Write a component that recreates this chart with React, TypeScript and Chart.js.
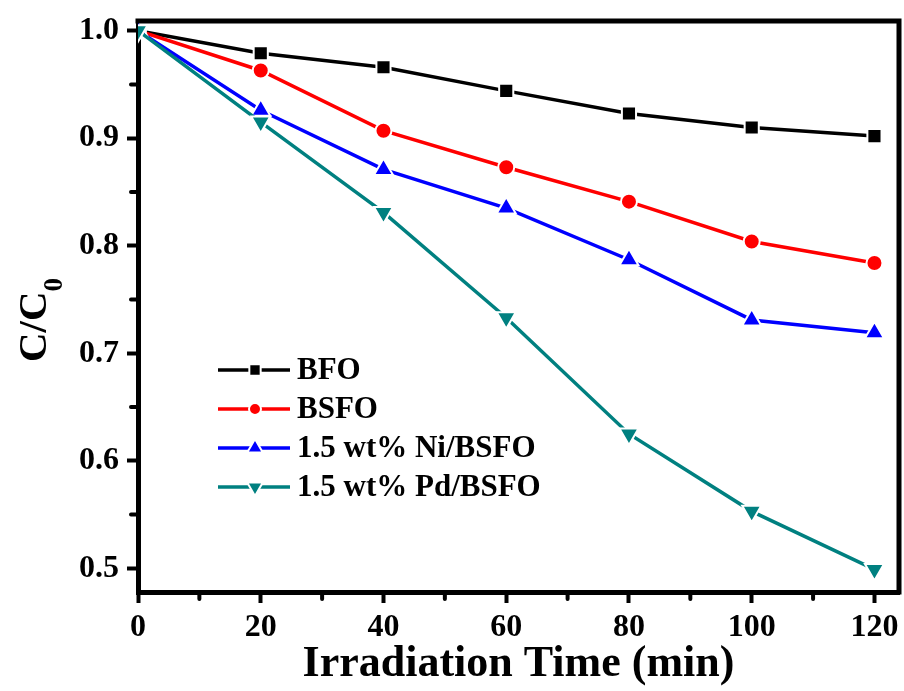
import React, { useEffect, useRef } from "react";
import { Chart, registerables } from "chart.js";
import { drawPoint } from "chart.js/helpers";

Chart.register(...registerables);

const times = [0, 20, 40, 60, 80, 100, 120];
const bfo = [1.0, 0.979, 0.966, 0.944, 0.923, 0.91, 0.902];
const bsfo = [1.0, 0.963, 0.907, 0.873, 0.841, 0.804, 0.784];
const niBsfo = [1.0, 0.926, 0.871, 0.835, 0.787, 0.731, 0.719];
const pdBsfo = [1.0, 0.915, 0.831, 0.733, 0.625, 0.553, 0.499];
const seriesNames = ["BFO", "BSFO", "1.5 wt% Ni/BSFO", "1.5 wt% Pd/BSFO"];
const xMinorTicks = [10, 30, 50, 70, 90, 110];
const yMinorTicks = [0.55, 0.65, 0.75, 0.85, 0.95];

const FONT = "'Liberation Serif', 'Times New Roman', serif";

const pts = (ys: number[]) => times.map((t, i) => ({ x: t, y: ys[i] }));

const zeroPad = (s: any) => {
  s.paddingLeft = 0;
  s.paddingRight = 0;
  s.paddingTop = 0;
  s.paddingBottom = 0;
};

const decorPlugin = {
  id: "decor",
  afterDraw(chart: any) {
    const ctx = chart.ctx;
    const { left, right, top, bottom } = chart.chartArea;
    const xs = chart.scales.x;
    const ys = chart.scales.y;
    ctx.save();
    ctx.strokeStyle = "#000";
    ctx.lineWidth = 5;
    ctx.lineCap = "square";
    ctx.beginPath();
    ctx.moveTo(left, top);
    ctx.lineTo(right, top);
    ctx.lineTo(right, bottom);
    ctx.stroke();
    ctx.lineWidth = 4;
    ctx.lineCap = "round";
    ctx.beginPath();
    xMinorTicks.forEach((v) => {
      const px = xs.getPixelForValue(v);
      ctx.moveTo(px, bottom);
      ctx.lineTo(px, bottom + 7);
    });
    yMinorTicks.forEach((v) => {
      const py = ys.getPixelForValue(v);
      ctx.moveTo(left, py);
      ctx.lineTo(left - 7, py);
    });
    ctx.stroke();

    ctx.fillStyle = "#000";
    ctx.translate(46, 362);
    ctx.rotate(-Math.PI / 2);
    ctx.font = `bold 41px ${FONT}`;
    ctx.textBaseline = "alphabetic";
    ctx.textAlign = "left";
    ctx.fillText("C/C", 0, 0);
    const w = ctx.measureText("C/C").width;
    ctx.font = `bold 27px ${FONT}`;
    ctx.fillText("0", w, 16);
    ctx.restore();

    ctx.save();
    chart.data.datasets.forEach((ds: any, i: number) => {
      const y = 370 + i * 39;
      ctx.strokeStyle = ds.borderColor;
      ctx.lineWidth = 3.5;
      ctx.lineCap = "butt";
      ctx.beginPath();
      ctx.moveTo(218, y);
      ctx.lineTo(290, y);
      ctx.stroke();
      ctx.fillStyle = ds.borderColor;
      ctx.strokeStyle = "#fff";
      ctx.lineWidth = 2;
      drawPoint(
        ctx,
        {
          pointStyle: ds.pointStyle,
          rotation: ds.pointRotation || 0,
          radius: ds.pointRadius - 2,
          borderWidth: 2,
        },
        255,
        y
      );
      ctx.fillStyle = "#000";
      ctx.font = `bold 31px ${FONT}`;
      ctx.textBaseline = "middle";
      ctx.textAlign = "left";
      ctx.fillText(ds.label, 297, y + 1);
    });
    ctx.restore();
  },
};

export default function App() {
  const ref = useRef<HTMLCanvasElement>(null);
  useEffect(() => {
    document.body.style.margin = "0";
    const common = {
      borderWidth: 3.5,
      pointBorderColor: "#fff",
      pointBorderWidth: 2,
      tension: 0,
    };
    const chart = new Chart(ref.current!, {
      type: "line",
      data: {
        datasets: [
          {
            ...common,
            label: seriesNames[0],
            data: pts(bfo),
            borderColor: "#000000",
            backgroundColor: "#000000",
            pointBackgroundColor: "#000000",
            pointStyle: "rect",
            pointRadius: 10,
            order: 4,
          },
          {
            ...common,
            label: seriesNames[1],
            data: pts(bsfo),
            borderColor: "#ff0000",
            backgroundColor: "#ff0000",
            pointBackgroundColor: "#ff0000",
            pointStyle: "circle",
            pointRadius: 8,
            order: 3,
          },
          {
            ...common,
            label: seriesNames[2],
            data: pts(niBsfo),
            borderColor: "#0000ff",
            backgroundColor: "#0000ff",
            pointBackgroundColor: "#0000ff",
            pointStyle: "triangle",
            pointRadius: 11,
            order: 2,
          },
          {
            ...common,
            label: seriesNames[3],
            data: pts(pdBsfo),
            borderColor: "#008080",
            backgroundColor: "#008080",
            pointBackgroundColor: "#008080",
            pointStyle: "triangle",
            pointRotation: 180,
            pointRadius: 11,
            order: 1,
          },
        ] as any,
      },
      options: {
        animation: false,
        responsive: false,
        maintainAspectRatio: false,
        layout: { autoPadding: false, padding: { left: 0, right: 5, top: 21, bottom: 0 } },
        plugins: { legend: { display: false }, tooltip: { enabled: false } },
        scales: {
          x: {
            type: "linear",
            min: 0,
            max: 124,
            afterFit: (s: any) => {
              s.height = 99;
              zeroPad(s);
            },
            ticks: {
              stepSize: 20,
              includeBounds: false,
              color: "#000",
              font: { family: FONT, size: 32, weight: "bold" },
              padding: 6,
              maxRotation: 0,
              callback: (v: any) => String(v),
            },
            grid: {
              display: true,
              drawOnChartArea: false,
              drawTicks: true,
              tickLength: 11,
              tickWidth: 4,
              tickColor: "#000",
            },
            border: { display: true, width: 5, color: "#000" },
            title: {
              display: true,
              text: "Irradiation Time (min)",
              color: "#000",
              font: { family: FONT, size: 44, weight: "bold" },
              padding: { top: 0, bottom: 0 },
            },
          },
          y: {
            type: "linear",
            min: 0.478,
            max: 1.009,
            afterFit: (s: any) => {
              s.width = 138;
              zeroPad(s);
            },
            ticks: {
              stepSize: 0.1,
              includeBounds: false,
              color: "#000",
              font: { family: FONT, size: 32, weight: "bold" },
              padding: 8,
              callback: (v: any) => Number(v).toFixed(1),
            },
            grid: {
              display: true,
              drawOnChartArea: false,
              drawTicks: true,
              tickLength: 11,
              tickWidth: 4,
              tickColor: "#000",
            },
            border: { display: true, width: 5, color: "#000" },
          },
        },
      } as any,
      plugins: [decorPlugin],
    });
    return () => chart.destroy();
  }, []);
  return (
    <div style={{ width: 904, height: 691, background: "#fff" }}>
      <canvas ref={ref} width={904} height={691} style={{ display: "block", width: 904, height: 691 }} />
    </div>
  );
}
